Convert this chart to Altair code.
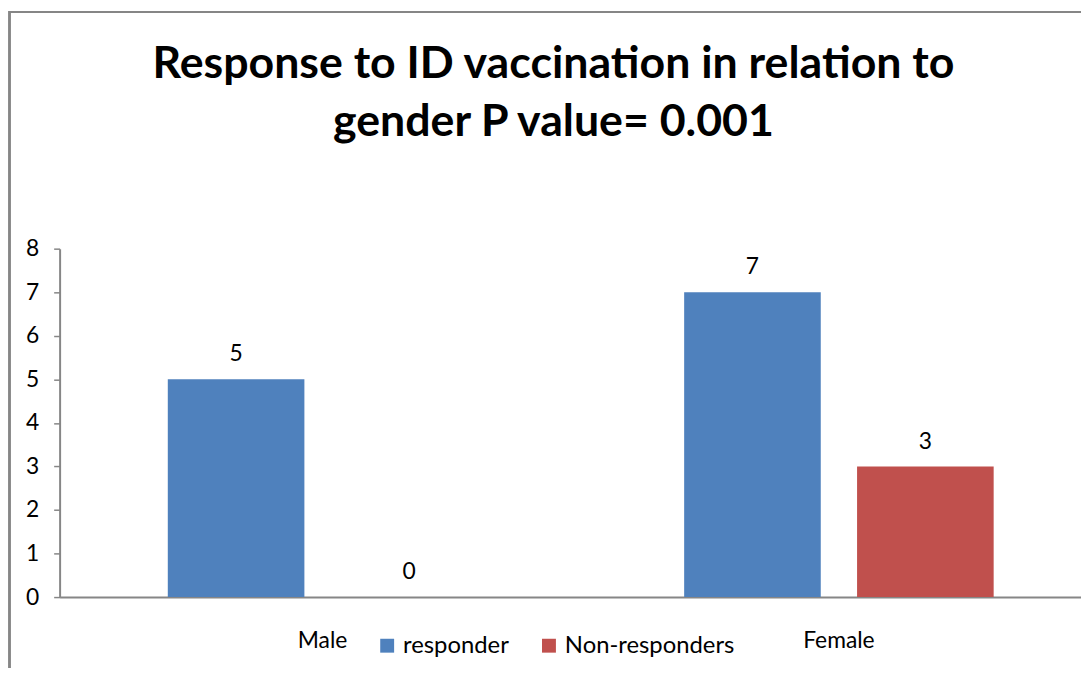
import altair as alt
import pandas as pd

genders = ["Male", "Male", "Female", "Female"]
groups = ["responder", "Non-responders", "responder", "Non-responders"]
counts = [5, 0, 7, 3]

gender_order = ["Male", "Female"]
group_order = ["responder", "Non-responders"]
colors = ["#4F81BD", "#C0504D"]
y_ticks = [0, 1, 2, 3, 4, 5, 6, 7, 8]

df = pd.DataFrame({"gender": genders, "group": groups, "count": counts})

FONT = "Lato"
GREY = "#868686"
FS = 23

x_enc = alt.X(
    "gender:N",
    sort=gender_order,
    scale=alt.Scale(domain=gender_order, range=[0, 1050],
                    paddingInner=0.4006, paddingOuter=0.2095),
    axis=alt.Axis(title=None, ticks=False, labelPadding=33, labelFontSize=FS,
                  labelFont=FONT, labelColor="#000000", domainColor=GREY,
                  domainWidth=2, labelAngle=0),
)
xoff_enc = alt.XOffset(
    "group:N", sort=group_order,
    scale=alt.Scale(domain=group_order, paddingInner=0.21, paddingOuter=0),
)
y_enc = alt.Y(
    "count:Q",
    scale=alt.Scale(domain=[0, 8], nice=False),
    axis=alt.Axis(title=None, values=y_ticks, grid=False, tickSize=6,
                  tickColor=GREY, tickWidth=1.5, domainColor=GREY, domainWidth=2,
                  labelPadding=15, labelFontSize=FS, labelFont=FONT,
                  labelColor="#000000"),
)

bars = alt.Chart(df).mark_bar().encode(
    x=x_enc,
    xOffset=xoff_enc,
    y=y_enc,
    color=alt.Color(
        "group:N",
        sort=group_order,
        scale=alt.Scale(domain=group_order, range=colors),
        legend=alt.Legend(title=None, orient="none", direction="horizontal",
                          legendX=318, legendY=388, symbolType="square",
                          symbolSize=196, symbolStrokeWidth=0, labelFontSize=24,
                          labelFont=FONT, labelColor="#000000", labelOffset=4,
                          labelLimit=400, columnPadding=28, padding=0),
    ),
)

labels = alt.Chart(df).mark_text(
    fontSize=FS, font=FONT, color="#000000", baseline="alphabetic", dy=-18
).encode(
    x=alt.X("gender:N", sort=gender_order),
    xOffset=alt.XOffset("group:N", sort=group_order),
    y="count:Q",
    text="count:Q",
)

border = alt.Chart(df).mark_rect(
    fill=None, stroke=GREY, strokeWidth=2
).encode(
    x=alt.value(-50.5), x2=alt.value(1100),
    y=alt.value(-238.5), y2=alt.value(480),
)

chart = alt.layer(border, bars, labels).properties(
    width=1029,
    height=351,
    padding={"left": 52, "top": 240, "right": 0, "bottom": 69},
    autosize=alt.AutoSizeParams(type="none"),
    title=alt.TitleParams(
        text=["Response to ID vaccination in relation to", "gender P value= 0.001"],
        font=FONT, fontSize=45, fontWeight="bold", color="#000000",
        anchor="middle", frame="group", offset=-135, lineHeight=58, dx=-17,
    ),
).configure_view(stroke=None)

chart.save("out.html", embed_options={"renderer": "svg", "actions": False})
